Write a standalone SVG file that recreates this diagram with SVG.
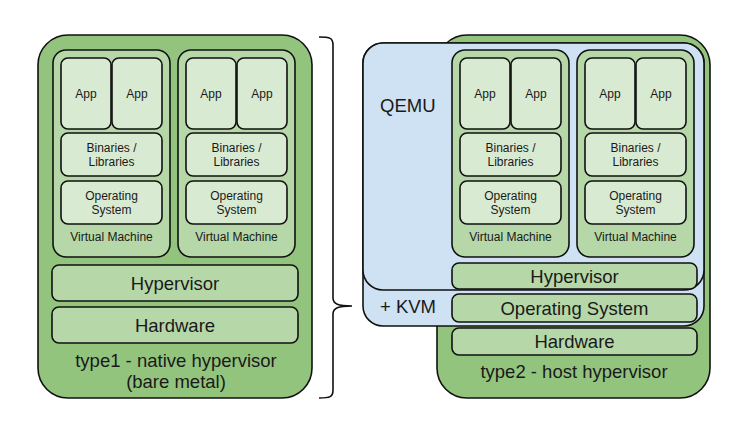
<svg xmlns="http://www.w3.org/2000/svg" width="746" height="443" viewBox="0 0 746 443">
<style>
rect{stroke:#111;stroke-width:1.6}
.outer{fill:#93c47d}
.vm{fill:#b6d7a8}
.app{fill:#d9ead3}
.layer{fill:#b6d7a8}
.blue{fill:#cfe2f3}
text{font-family:"Liberation Sans",Arial,sans-serif;fill:#1a1a1a;text-anchor:middle}
.s{font-size:12px}
.b{font-size:18.5px}
.l{text-anchor:start}
</style>
<defs>
<g id="vmtpl">
<rect class="vm" x="0" y="0" width="117" height="207" rx="13"/>
<rect class="app" x="8" y="8" width="50" height="71" rx="7"/>
<rect class="app" x="59" y="8" width="50" height="71" rx="7"/>
<rect class="app" x="8" y="83" width="101" height="43" rx="7"/>
<rect class="app" x="8" y="131" width="101" height="43" rx="7"/>
<text class="s" x="33" y="48">App</text>
<text class="s" x="84" y="48">App</text>
<text class="s" x="58.5" y="101.5">Binaries /</text>
<text class="s" x="58.5" y="115.5">Libraries</text>
<text class="s" x="58.5" y="150">Operating</text>
<text class="s" x="58.5" y="164">System</text>
<text class="s" x="58.5" y="190.5">Virtual Machine</text>
</g>
</defs>
<g id="type1">
<rect class="outer" x="38" y="35" width="274" height="363" rx="30"/>
<g id="type1-vm1"><use href="#vmtpl" x="53" y="50"/></g>
<g id="type1-vm2"><use href="#vmtpl" x="178" y="50"/></g>
<g id="type1-hypervisor">
<rect class="layer" x="52" y="265" width="246" height="36" rx="7"/>
<text class="b" x="175" y="290">Hypervisor</text>
</g>
<g id="type1-hardware">
<rect class="layer" x="52" y="307" width="246" height="36" rx="7"/>
<text class="b" x="175" y="332">Hardware</text>
</g>
<text class="b" x="176" y="367">type1 - native hypervisor</text>
<text class="b" x="176" y="388">(bare metal)</text>
</g>
<g id="connectors">
<path d="M319,37 C330,37 333,38 333,45 V298 C333,304 338,306 352,306 C338,306 333,308 333,314 V390 C333,397 330,398 319,398" fill="none" stroke="#111" stroke-width="1.6"/>
</g>
<g id="type2">
<rect class="outer" x="437" y="35" width="273" height="363" rx="30"/>
<g id="kvm">
<rect class="blue" x="363" y="43" width="341" height="283" rx="20"/>
<text class="b l" x="380" y="313">+ KVM</text>
</g>
<g id="qemu">
<rect class="blue" x="363" y="43" width="341" height="247" rx="20"/>
<text class="b l" x="380" y="112">QEMU</text>
</g>
<g id="type2-vm1"><use href="#vmtpl" x="452" y="50"/></g>
<g id="type2-vm2"><use href="#vmtpl" x="577" y="50"/></g>
<g id="type2-hypervisor">
<rect class="layer" x="452" y="263" width="245" height="26" rx="7"/>
<text class="b" x="574.5" y="283">Hypervisor</text>
</g>
<g id="type2-os">
<rect class="layer" x="452" y="294" width="245" height="28" rx="7"/>
<text class="b" x="574.5" y="315">Operating System</text>
</g>
<g id="type2-hardware">
<rect class="layer" x="452" y="328" width="245" height="27" rx="7"/>
<text class="b" x="574.5" y="348">Hardware</text>
</g>
<text class="b" x="574" y="378">type2 - host hypervisor</text>
</g>
</svg>
